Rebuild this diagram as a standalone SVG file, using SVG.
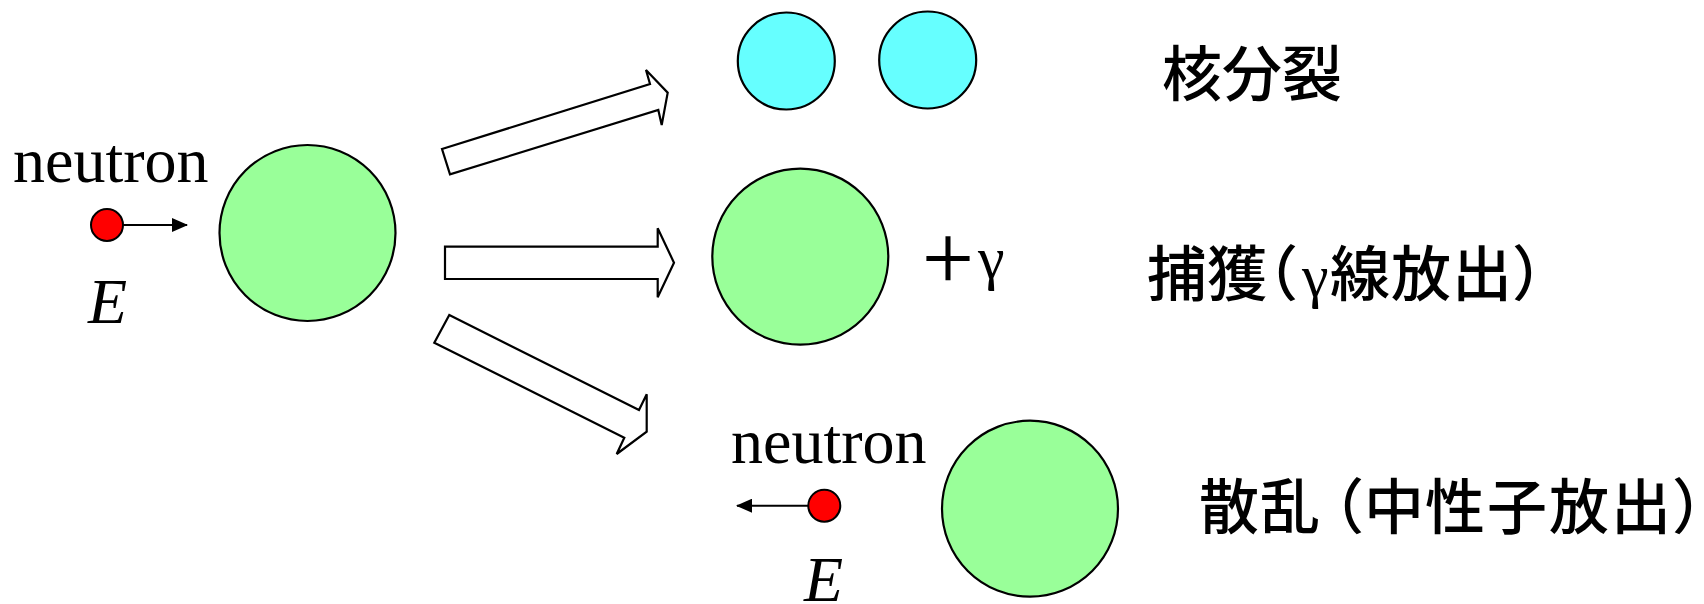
<svg xmlns="http://www.w3.org/2000/svg" width="1704" height="604" viewBox="0 0 1704 604">
<style>
.bg{fill:#ffffff}
.nuc{fill:#99ff99;stroke:#000;stroke-width:2.2}
.frag{fill:#66ffff;stroke:#000;stroke-width:2.2}
.neu{fill:#ff0000;stroke:#000;stroke-width:2}
.big{fill:#fff;stroke:#000;stroke-width:2.2;stroke-linejoin:miter}
.lbl{font-family:"Liberation Serif","Times New Roman",serif;font-size:64px;fill:#000}
.it{font-style:italic}
.jp{font-family:"Noto Sans CJK JP","Noto Sans CJK SC",sans-serif;font-size:60px;font-weight:500;fill:#000}
.gam{font-family:"Liberation Serif",serif;font-size:60px;font-weight:400;fill:#000}
.half{font-feature-settings:"halt"}
.ln{stroke:#000;stroke-width:2;fill:none}
</style>
<defs>
<marker id="ah" markerWidth="16" markerHeight="14" refX="15" refY="7" orient="auto" markerUnits="userSpaceOnUse">
<path d="M0,0 L16,7 L0,14 Z" fill="#000"/>
</marker>
</defs>
<rect class="bg" x="0" y="0" width="1704" height="604"/>

<g id="incoming-neutron">
<text class="lbl" x="13" y="182">neutron</text>
<circle class="neu" cx="107" cy="225" r="16"/>
<text class="lbl it" x="88" y="323">E</text>
</g>

<g id="target-nucleus">
<circle class="nuc" cx="307.5" cy="233" r="88"/>
</g>

<g id="fission">
<circle class="frag" cx="786.3" cy="61" r="48.5"/>
<circle class="frag" cx="927.7" cy="60" r="48.5"/>
<text class="jp" x="1162" y="96">核分裂</text>
</g>

<g id="capture">
<circle class="nuc" cx="800.3" cy="256.7" r="88"/>
<text class="jp" x="918" y="281">＋</text>
<text class="gam" x="978" y="278">γ</text>
<text class="jp" y="296"><tspan x="1147">捕</tspan><tspan x="1207">獲</tspan><tspan class="half" x="1268">（</tspan><tspan class="gam" x="1302">γ</tspan><tspan x="1330">線</tspan><tspan x="1391">放</tspan><tspan x="1452">出</tspan><tspan class="half" x="1512">）</tspan></text>
</g>

<g id="scattering">
<text class="lbl" x="731" y="463">neutron</text>
<circle class="neu" cx="824.3" cy="505.7" r="16"/>
<text class="lbl it" x="804" y="601">E</text>
<circle class="nuc" cx="1030" cy="508.7" r="88"/>
<text class="jp" y="529"><tspan x="1199">散</tspan><tspan x="1260">乱</tspan><tspan class="half" x="1334">（</tspan><tspan x="1364">中</tspan><tspan x="1425">性</tspan><tspan x="1487">子</tspan><tspan x="1549">放</tspan><tspan x="1611">出</tspan><tspan class="half" x="1672">）</tspan></text>
</g>

<g id="connectors">
<line class="ln" x1="123" y1="225" x2="187" y2="225" marker-end="url(#ah)"/>
<line class="ln" x1="808" y1="505.7" x2="737" y2="505.7" marker-end="url(#ah)"/>
<polygon class="big" points="442,149 650,84 646,70 667.7,92.7 661.7,125 658.3,110 450,174.3"/>
<polygon class="big" points="445,246.7 657.7,246.7 657.7,228.3 674,262.7 657.7,297.3 657.7,279 445,279"/>
<polygon class="big" points="449.3,315 639,410 646.7,394.3 646.7,431.7 616.7,454 624.3,437.7 434.3,342.7"/>
</g>
</svg>
